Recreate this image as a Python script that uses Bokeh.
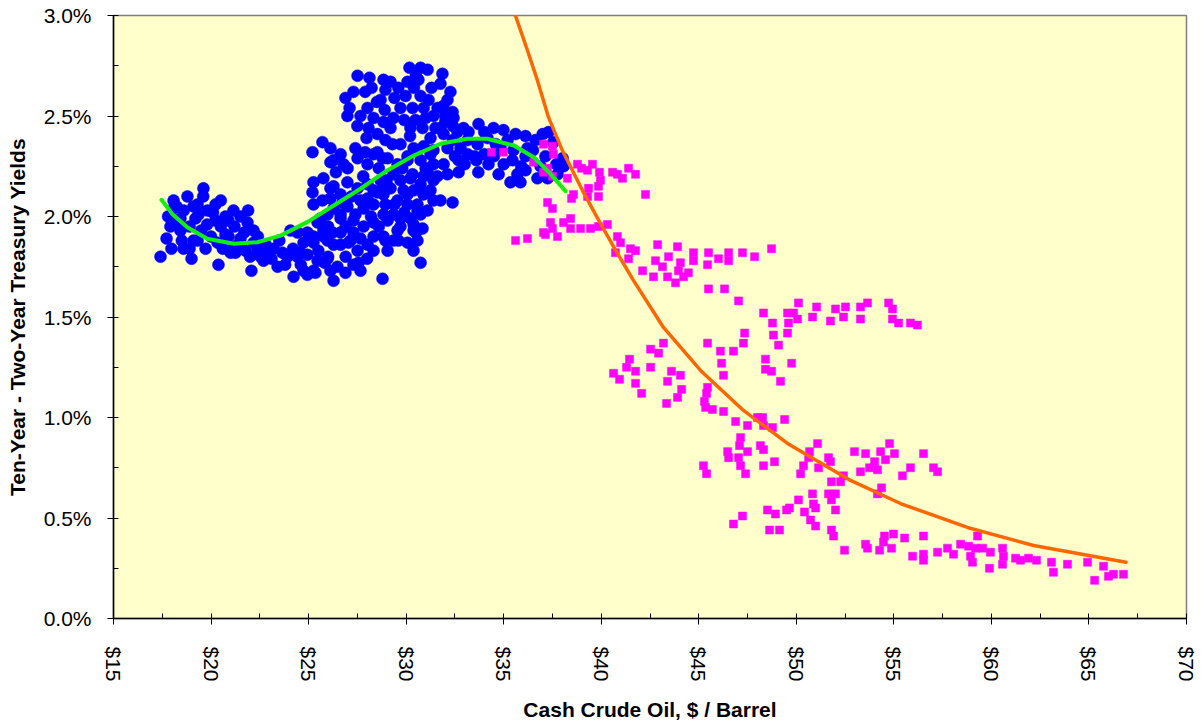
from bokeh.plotting import figure
from bokeh.models import Range1d, FixedTicker, PrintfTickFormatter, ColumnDataSource
from bokeh.embed import file_html
from bokeh.resources import INLINE

# ---------------- data ----------------
x_ticks = [15, 20, 25, 30, 35, 40, 45, 50, 55, 60, 65, 70]
x_minor = [17.5, 22.5, 27.5, 32.5, 37.5, 42.5, 47.5, 52.5, 57.5, 62.5, 67.5]
y_ticks = [0.0, 0.5, 1.0, 1.5, 2.0, 2.5, 3.0]
y_minor = [0.25, 0.75, 1.25, 1.75, 2.25, 2.75]

# blue: (cash crude $/bbl, 10y-2y spread %)
blue_pts = [
    (17.41, 1.80), (17.72, 1.89), (17.97, 1.84), (18.59, 1.84), (17.92, 1.95), (18.08, 2.08), (18.23, 2.05),
    (18.79, 2.10), (19.31, 2.06), (19.61, 2.14), (20.23, 2.06), (19.82, 2.03), (18.43, 1.93), (19.31, 1.88),
    (19.72, 1.84), (20.38, 1.76), (20.23, 1.98), (21.15, 2.03), (20.89, 1.98), (21.87, 1.97), (22.18, 1.93),
    (21.25, 1.82), (22.07, 1.73), (22.69, 1.78), (23.20, 1.84), (23.41, 1.75), (24.07, 1.93), (24.23, 1.70),
    (24.94, 1.71), (24.59, 1.82), (25.25, 1.90), (25.35, 1.72), (25.82, 1.77), (26.28, 1.68), (26.48, 1.75),
    (26.89, 1.72), (27.56, 1.77), (28.79, 1.69), (29.05, 1.83), (30.38, 1.83), (30.74, 1.77),
    (18.08, 2.04), (18.43, 1.99), (19.10, 2.05), (19.36, 2.01), (20.74, 2.00), (21.51, 2.00), (19.10, 1.88),
    (20.33, 1.87), (20.74, 1.91), (21.15, 1.85), (21.51, 1.89), (21.00, 1.82), (21.77, 1.83), (22.18, 1.87),
    (22.54, 1.80), (23.92, 1.80), (24.43, 1.80), (24.94, 1.81), (25.25, 1.73), (24.74, 1.73), (25.46, 1.78),
    (25.97, 1.79), (26.12, 1.73), (27.66, 1.73), (24.94, 1.92), (25.46, 1.97), (25.97, 1.88), (25.25, 1.87),
    (26.64, 1.92), (26.64, 1.86), (27.15, 1.88), (27.51, 1.83), (28.02, 1.86), (28.33, 1.83), (28.33, 1.90),
    (28.94, 1.88), (29.61, 1.88), (30.07, 1.87), (29.56, 1.93), (30.38, 1.96), (30.84, 1.94), (31.10, 2.03),
    (30.58, 2.03), (29.71, 1.99), (29.05, 1.98), (28.33, 1.97), (27.82, 1.95), (27.30, 1.98), (26.64, 1.99),
    (26.28, 2.04), (26.99, 2.05), (27.66, 2.08), (28.33, 2.06), (28.84, 2.11), (29.20, 2.14), (29.56, 2.08),
    (30.07, 2.11), (30.58, 2.06), (30.74, 2.16), (31.25, 2.13), (31.40, 2.18), (30.89, 2.20), (30.22, 2.19),
    (29.71, 2.18), (29.35, 2.21), (28.69, 2.18), (28.33, 2.13), (28.02, 2.16), (27.51, 2.14), (26.99, 2.17),
    (26.64, 2.11), (26.12, 2.14), (25.76, 2.19), (25.25, 2.17), (25.20, 2.12), (25.25, 2.06), (25.71, 2.08),
    (25.97, 2.01), (25.61, 1.99), (26.79, 2.26), (26.28, 2.28), (26.64, 2.31), (27.51, 2.29), (28.02, 2.26),
    (28.33, 2.31), (29.05, 2.29), (29.56, 2.26), (30.07, 2.30), (30.74, 2.28), (31.25, 2.31), (31.40, 2.26),
    (25.20, 2.32), (25.71, 2.37), (26.12, 2.34), (26.12, 2.27), (27.40, 2.34), (26.89, 2.59), (27.10, 2.54),
    (26.99, 2.50), (27.51, 2.70), (28.12, 2.69), (28.23, 2.64), (28.84, 2.68), (29.20, 2.67), (28.94, 2.63),
    (29.40, 2.59), (30.17, 2.74), (30.74, 2.74), (31.10, 2.73), (30.07, 2.67), (30.63, 2.68), (31.86, 2.71),
    (31.76, 2.66), (32.27, 2.62), (32.12, 2.58), (31.15, 2.58), (31.61, 2.54), (32.43, 2.49), (31.40, 2.50),
    (30.33, 2.54), (29.71, 2.54), (29.35, 2.49), (28.84, 2.47), (28.33, 2.49), (28.02, 2.54), (28.07, 2.44),
    (28.53, 2.41), (28.94, 2.38), (27.97, 2.39), (28.53, 2.32), (29.71, 2.36), (30.22, 2.44), (30.84, 2.44),
    (31.25, 2.39), (31.76, 2.44), (32.94, 2.44), (33.71, 2.46), (34.48, 2.44), (33.15, 2.38), (32.12, 2.34),
    (32.69, 2.28), (31.92, 2.26), (31.15, 2.21), (32.12, 2.21), (32.69, 2.22), (34.22, 2.26), (34.74, 2.21),
    (30.33, 2.21), (28.84, 2.15), (28.53, 2.12), (28.02, 2.09), (27.82, 2.04), (26.28, 2.15), (26.12, 2.09),
    (26.74, 2.07), (26.64, 2.01), (25.76, 1.93), (26.23, 1.92), (27.30, 1.92), (28.84, 2.01), (29.35, 2.01),
    (29.71, 1.95), (29.35, 1.88), (28.84, 1.90), (27.66, 1.89), (27.05, 1.87), (26.28, 1.86), (25.76, 1.90),
    (24.74, 1.87), (24.43, 1.92), (23.66, 1.82), (22.89, 1.82), (22.38, 1.84), (30.38, 1.93), (30.58, 1.88),
    (30.22, 1.99), (30.74, 2.01), (30.89, 2.11), (31.40, 2.08), (31.76, 2.08), (32.38, 2.07), (29.87, 2.13),
    (30.07, 2.06), (28.94, 2.06),
    (32.38, 2.52), (34.99, 2.43), (35.61, 2.41), (36.12, 2.40), (36.22, 2.34), (37.30, 2.42), (37.55, 2.37),
    (38.02, 2.29), (38.07, 2.25), (37.76, 2.21), (37.25, 2.19), (36.73, 2.19), (35.86, 2.17), (35.35, 2.17),
    (33.15, 2.31), (31.40, 2.33), (30.38, 2.34), (30.07, 2.28), (33.66, 2.36), (34.17, 2.39), (32.63, 2.42),
    (31.92, 2.41), (32.79, 2.34), (35.45, 2.28), (35.50, 2.33), (34.84, 2.34), (36.12, 2.30), (36.89, 2.25),
    (37.14, 2.30), (36.63, 2.38), (36.12, 2.23), (28.69, 2.58), (29.97, 2.60), (30.74, 2.60), (30.48, 2.48),
    (27.66, 2.50), (33.50, 2.30), (34.00, 2.31), (33.00, 2.26), (34.50, 2.30), (35.00, 2.26), (33.70, 2.22),
    (35.90, 2.25),
    (17.80, 2.00), (18.20, 1.97), (18.50, 1.88), (18.90, 1.95), (18.90, 1.84), (19.20, 1.99), (19.50, 1.93),
    (19.80, 1.96), (20.00, 1.90), (20.10, 2.02), (20.50, 1.95), (20.60, 1.84), (20.90, 1.90), (21.20, 1.95),
    (21.40, 1.86), (21.70, 1.92), (22.00, 1.80), (22.40, 1.90), (22.80, 1.86), (23.10, 1.79), (23.50, 1.88),
    (23.80, 1.76), (24.20, 1.84), (24.60, 1.76), (19.60, 2.10), (18.60, 2.03), (20.50, 2.08), (19.00, 1.79),
    (21.90, 2.03),
    (25.50, 1.83), (26.00, 1.95), (26.40, 2.22), (26.90, 1.95), (27.00, 2.24), (27.20, 2.10), (27.40, 2.01),
    (27.80, 2.20), (27.90, 2.32), (28.20, 2.00), (28.60, 2.24), (28.60, 1.95), (28.80, 2.29), (29.00, 2.18),
    (29.30, 2.36), (29.40, 2.06), (29.80, 2.24), (29.90, 2.02), (30.20, 2.40), (30.40, 2.13), (30.50, 1.92),
    (30.90, 2.35), (31.00, 2.24), (31.50, 2.44), (31.60, 2.20), (32.00, 2.50), (32.40, 2.38), (32.50, 2.30),
    (33.20, 2.42), (33.60, 2.28), (34.00, 2.42), (34.60, 2.36), (35.20, 2.38), (35.70, 2.21), (36.50, 2.33),
    (37.00, 2.41), (37.70, 2.26),
    (27.50, 2.45), (27.30, 2.62), (27.90, 2.62), (28.50, 2.57), (28.90, 2.53), (29.60, 2.64), (29.90, 2.48),
    (30.40, 2.64), (31.00, 2.49), (31.30, 2.64), (31.90, 2.55), (32.00, 2.47), (30.90, 2.54), (29.20, 2.44),
    (30.50, 2.70), (32.40, 2.45),
    (26.00, 1.80), (26.90, 1.80), (27.30, 1.76), (28.00, 1.79),
]

# magenta: (cash crude $/bbl, 10y-2y spread %)
pink_pts = [
    (34.38, 2.32), (34.99, 2.32), (37.04, 2.36), (37.50, 2.35), (37.55, 2.31), (36.53, 2.27), (37.25, 2.24),
    (37.50, 2.20), (38.27, 2.19), (38.78, 2.26), (38.58, 2.11), (37.04, 2.22), (38.99, 2.24), (39.55, 2.26),
    (39.30, 2.23), (39.91, 2.22), (39.96, 2.18), (39.86, 2.15), (39.35, 2.14), (39.30, 2.10), (39.86, 2.10),
    (38.48, 2.09), (40.58, 2.22), (40.83, 2.21), (41.09, 2.19), (41.40, 2.24), (41.76, 2.21), (42.27, 2.11),
    (37.25, 2.07), (37.50, 2.04), (35.61, 1.88), (36.22, 1.89), (37.04, 1.92), (37.40, 1.97), (37.50, 1.94),
    (37.14, 1.91), (37.76, 1.90), (38.07, 1.97), (38.43, 1.99), (38.43, 1.94), (38.94, 1.94), (39.45, 1.94),
    (39.86, 1.95), (40.32, 1.96), (40.83, 1.90), (40.99, 1.87), (40.73, 1.82), (41.50, 1.84), (41.76, 1.83),
    (41.40, 1.79), (42.12, 1.73), (42.89, 1.86), (42.78, 1.78), (43.14, 1.75), (42.68, 1.70), (43.40, 1.70),
    (43.81, 1.67), (43.91, 1.85), (43.45, 1.80), (44.06, 1.77), (43.96, 1.73), (44.47, 1.72), (44.22, 1.70),
    (44.73, 1.82), (44.73, 1.78), (45.50, 1.82), (45.45, 1.76), (46.01, 1.79), (46.53, 1.82), (46.53, 1.78),
    (47.24, 1.82), (47.86, 1.80), (48.73, 1.84), (45.50, 1.64), (46.32, 1.64), (47.04, 1.58), (48.32, 1.52),
    (50.11, 1.57), (49.55, 1.52), (49.86, 1.52), (51.04, 1.55), (52.01, 1.54), (52.52, 1.55),
    (48.78, 1.47), (48.83, 1.41), (50.06, 1.49), (49.60, 1.47), (49.55, 1.42), (49.09, 1.36), (48.42, 1.29),
    (48.42, 1.24), (48.73, 1.23), (49.19, 1.18), (49.76, 1.27), (50.83, 1.50), (51.75, 1.48), (52.42, 1.50),
    (53.29, 1.55), (53.29, 1.49), (53.65, 1.57), (54.73, 1.57), (54.93, 1.54), (54.93, 1.49), (55.24, 1.47),
    (55.85, 1.47), (56.21, 1.46), (47.35, 1.42), (47.29, 1.37), (46.78, 1.33), (46.11, 1.33), (45.45, 1.37),
    (46.17, 1.27), (46.27, 1.21), (43.19, 1.37), (42.53, 1.34), (42.94, 1.32), (41.45, 1.29), (42.53, 1.25),
    (41.30, 1.25), (41.76, 1.23), (40.63, 1.22), (40.94, 1.19), (41.76, 1.17), (42.07, 1.12), (43.60, 1.23),
    (44.06, 1.21), (43.40, 1.18), (44.12, 1.14), (43.91, 1.10), (43.35, 1.07), (45.45, 1.15), (45.40, 1.12),
    (45.29, 1.08), (45.35, 1.05), (45.70, 1.04), (46.27, 1.03), (46.89, 0.98), (47.50, 0.96), (48.01, 1.00),
    (48.27, 1.00), (48.32, 0.96), (48.78, 0.95), (49.40, 0.99), (47.14, 0.90), (47.09, 0.86), (46.48, 0.83),
    (46.53, 0.80), (47.04, 0.80), (47.50, 0.83), (47.14, 0.76), (47.40, 0.72), (48.16, 0.86), (48.32, 0.84),
    (48.32, 0.76), (48.88, 0.78), (45.24, 0.76), (45.40, 0.72), (51.09, 0.87), (50.68, 0.83), (50.63, 0.80),
    (51.65, 0.80), (51.75, 0.78), (51.14, 0.75), (50.37, 0.76), (50.22, 0.72), (52.98, 0.83), (53.55, 0.82),
    (54.32, 0.83), (54.78, 0.87), (55.03, 0.82), (54.57, 0.79), (54.01, 0.78), (53.75, 0.75), (53.29, 0.73),
    (54.16, 0.74), (55.44, 0.71), (55.85, 0.75), (56.52, 0.82), (57.03, 0.75), (57.24, 0.73),
    (52.42, 0.71), (52.27, 0.68), (51.80, 0.68), (54.37, 0.65), (54.16, 0.62), (50.83, 0.62), (50.88, 0.57),
    (50.99, 0.55), (50.42, 0.53), (50.73, 0.49), (50.99, 0.46), (50.11, 0.59), (49.65, 0.55), (49.50, 0.54),
    (48.93, 0.52), (48.52, 0.54), (47.24, 0.51), (46.78, 0.47), (51.65, 0.62), (52.01, 0.62), (51.80, 0.59),
    (52.01, 0.54), (51.80, 0.44), (51.91, 0.41), (52.47, 0.34), (48.63, 0.44), (49.14, 0.44), (53.55, 0.37),
    (53.65, 0.35), (54.52, 0.41), (54.98, 0.42), (54.47, 0.38), (54.27, 0.34), (54.88, 0.35), (55.55, 0.40),
    (56.52, 0.41), (55.96, 0.31), (56.52, 0.32), (56.52, 0.29), (57.24, 0.33), (57.75, 0.35), (58.06, 0.32),
    (58.42, 0.37), (58.83, 0.36), (59.29, 0.41), (58.93, 0.31), (59.19, 0.35), (59.55, 0.35), (59.95, 0.33),
    (59.03, 0.28), (59.90, 0.25), (60.57, 0.35), (60.62, 0.31), (60.57, 0.27), (61.24, 0.30), (61.49, 0.29),
    (61.90, 0.30), (62.31, 0.29), (63.08, 0.28), (63.18, 0.23), (63.90, 0.27), (64.93, 0.28), (65.75, 0.26),
    (65.29, 0.19), (66.00, 0.21), (66.26, 0.22), (66.77, 0.22),
]

# green trend (blue series)
poly_oil = [17.46, 18.01, 18.78, 19.80, 21.17, 22.37, 23.56, 24.93, 26.29, 27.66, 29.03, 30.39, 31.76,
            33.13, 34.15, 35.52, 36.54, 37.40, 38.17]
poly_spread = [2.083, 2.013, 1.947, 1.889, 1.864, 1.872, 1.905, 1.972, 2.055, 2.138, 2.229, 2.303, 2.362,
               2.387, 2.387, 2.353, 2.295, 2.212, 2.126]

# orange trend (magenta series)
expo_oil = [35.60, 36.22, 36.73, 37.30, 38.01, 39.04, 39.96, 40.83, 41.65, 43.19, 45.09, 47.29, 49.55,
            52.78, 55.34, 58.77, 62.16, 66.90]
expo_spread = [3.000, 2.826, 2.677, 2.493, 2.328, 2.129, 1.965, 1.816, 1.682, 1.448, 1.234, 1.035, 0.871,
               0.687, 0.572, 0.453, 0.363, 0.280]

x_title = "Cash Crude Oil, $ / Barrel"
y_title = "Ten-Year - Two-Year Treasury Yields"

FONT = "Liberation Sans"

# ---------------- figure ----------------
p = figure(width=1200, height=724, output_backend="svg", toolbar_location=None,
           x_range=Range1d(15, 70), y_range=Range1d(0, 3),
           min_border_left=113, min_border_right=14, min_border_top=15, min_border_bottom=106)

p.background_fill_color = "#FFFFCC"
p.border_fill_color = "white"
p.outline_line_color = "#808080"
p.outline_line_width = 1.5
p.xgrid.visible = False
p.ygrid.visible = False

xa = p.xaxis[0]
xa.ticker = FixedTicker(ticks=x_ticks, minor_ticks=x_minor)
xa.formatter = PrintfTickFormatter(format="$%d")
xa.major_label_orientation = "vertical"
ya = p.yaxis[0]
ya.ticker = FixedTicker(ticks=y_ticks, minor_ticks=y_minor)
ya.formatter = PrintfTickFormatter(format="%.1f%%")

for ax in (xa, ya):
    ax.axis_line_color = "black"
    ax.axis_line_width = 1.5
    ax.major_tick_line_color = "black"
    ax.minor_tick_line_color = "black"
    ax.major_tick_in = 5
    ax.major_tick_out = 6
    ax.minor_tick_in = 5
    ax.minor_tick_out = 0
    ax.major_label_text_font = FONT
    ax.major_label_text_font_size = "21px"
    ax.major_label_text_color = "black"
    ax.axis_label_text_font = FONT
    ax.axis_label_text_font_size = "21px"
    ax.axis_label_text_font_style = "bold"
    ax.axis_label_text_color = "black"

xa.major_label_standoff = 22
ya.major_label_standoff = 16

xa.axis_label = x_title
xa.axis_label_standoff = 13
ya.axis_label = y_title
ya.axis_label_standoff = 12

blue_src = ColumnDataSource(dict(x=[a for a, b in blue_pts], y=[b for a, b in blue_pts]))
pink_src = ColumnDataSource(dict(x=[a for a, b in pink_pts], y=[b for a, b in pink_pts]))

p.scatter("x", "y", source=blue_src, marker="circle", size=12,
          fill_color="#0000FF", line_color="#0000FF", line_width=0.5)
p.scatter("x", "y", source=pink_src, marker="square", size=8,
          fill_color="#FF00FF", line_color="#FF00FF", line_width=0.5)
p.line(poly_oil, poly_spread, line_color="#11EE11", line_width=4, line_join="round", line_cap="round")
p.line(expo_oil, expo_spread, line_color="#FF6600", line_width=3.5, line_join="round", line_cap="round")

open("out.html", "w").write(file_html(p, INLINE))
